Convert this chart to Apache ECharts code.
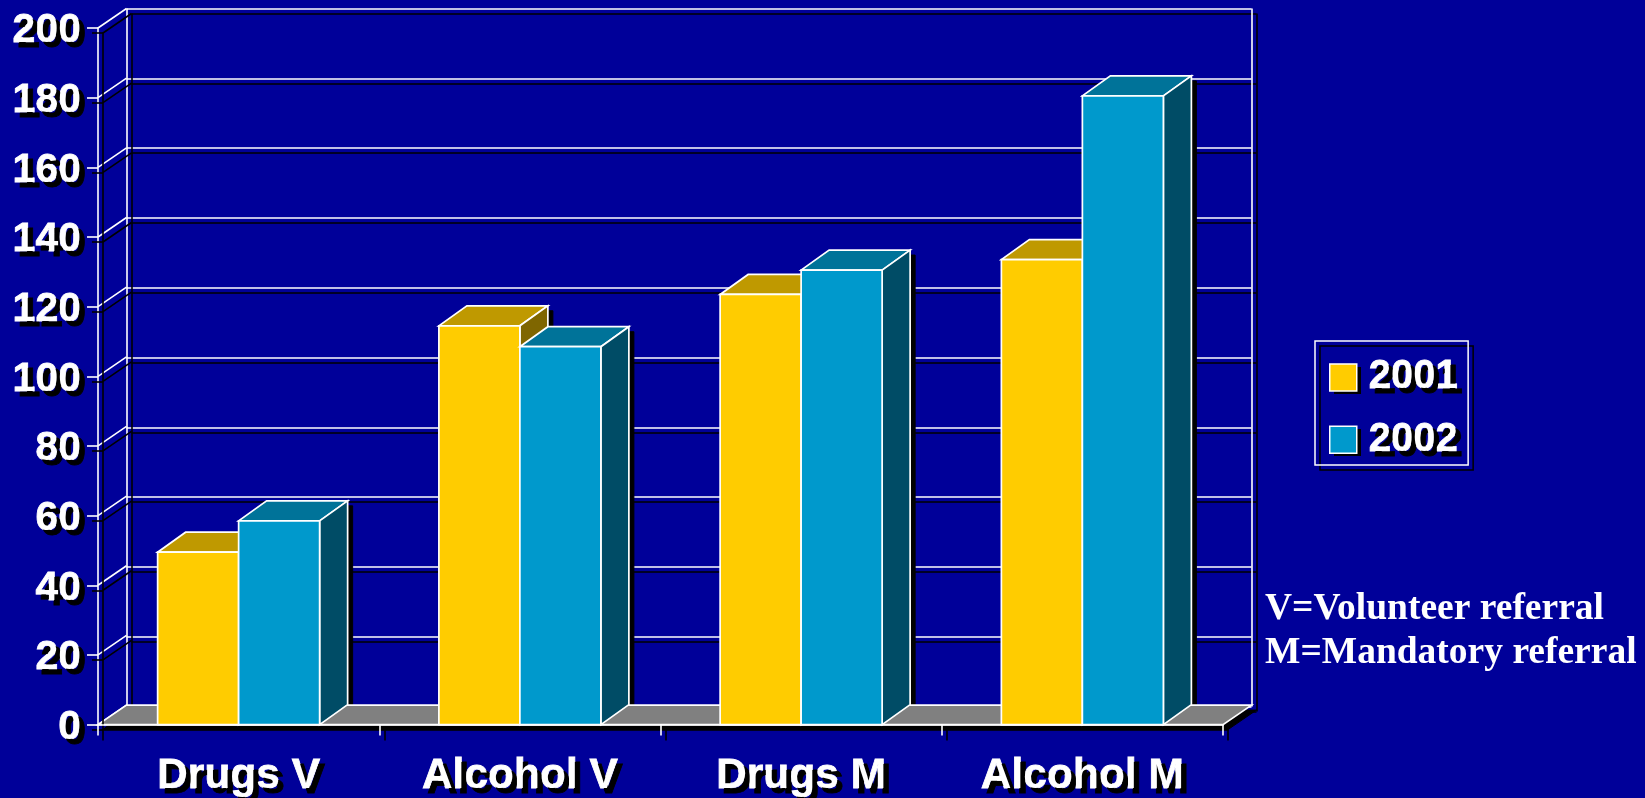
<!DOCTYPE html>
<html><head><meta charset="utf-8">
<style>html,body{margin:0;padding:0;background:#000099;overflow:hidden}#c{width:1645px;height:798px}</style>
<script src="https://cdn.jsdelivr.net/npm/echarts@6/dist/echarts.min.js"></script>
</head><body><div id="c"></div>
<script>
const categories = ['Drugs V', 'Alcohol V', 'Drugs M', 'Alcohol M'];
const values2001 = [49.5, 114.5, 123.5, 133.5];
const values2002 = [58.5, 108.5, 130.5, 180.5];
const yTicks = [0, 20, 40, 60, 80, 100, 120, 140, 160, 180, 200];
const noteLines = ['V=Volunteer referral', 'M=Mandatory referral'];

const BG = '#000099', WHITE = '#ffffff', BLACK = '#000000';
const FRONT = {left: 98, top: 28, width: 1125, height: 698};
const WALL_DX = 28.5, WALL_DY = -19.5;
const BAR_DX = 28, BAR_DY = -20, BAR_FRACTION = 0.288, SH = 5;
const shadow = {shadowColor: BLACK, shadowOffsetX: SH, shadowOffsetY: SH, shadowBlur: 0};
const lineStyle = Object.assign({color: WHITE, width: 1.6}, shadow);
const textShadow = {textShadowColor: BLACK, textShadowOffsetX: SH, textShadowOffsetY: SH, textShadowBlur: 0.5};
const labelFont = {color: WHITE, fontFamily: '"Liberation Sans", Arial, sans-serif', fontWeight: 'bold', textBorderColor: WHITE, textBorderWidth: 0.8};

function poly(points, fill) {
  return {type: 'polygon', shape: {points}, style: {fill, stroke: WHITE, lineWidth: 1.7, lineJoin: 'miter'}};
}
function silhouette(points) {
  return {type: 'polygon', shape: {points: points.map(p => [p[0] + SH, p[1] + SH])}, style: {fill: BLACK, stroke: BLACK, lineWidth: 1}};
}
function barBox(api, sign) {
  const p = api.coord([api.value(0), api.value(1)]);
  const base = api.coord([api.value(0), 0]);
  const w = api.size([1, 0])[0] * BAR_FRACTION;
  const x0 = sign < 0 ? p[0] - w : p[0];
  return {x0, x1: x0 + w, yT: p[1], yB: base[1]};
}
function barShadowSeries(name, values, sign) {
  return {
    name, type: 'custom', coordinateSystem: 'cartesian2d', xAxisIndex: 0, yAxisIndex: 0, z: 1, silent: true,
    data: values.map((v, i) => [i, v]),
    renderItem(params, api) {
      const {x0, x1, yT, yB} = barBox(api, sign);
      return silhouette([[x0, yB], [x0, yT], [x0 + BAR_DX, yT + BAR_DY], [x1 + BAR_DX, yT + BAR_DY], [x1 + BAR_DX, yB + BAR_DY], [x1, yB]]);
    }
  };
}
function barSeries(name, values, front, top, side, sign) {
  return {
    name, type: 'custom', coordinateSystem: 'cartesian2d', xAxisIndex: 0, yAxisIndex: 0, z: 3,
    itemStyle: {color: front}, silent: true,
    data: values.map((v, i) => [i, v]),
    renderItem(params, api) {
      const {x0, x1, yT, yB} = barBox(api, sign);
      return {type: 'group', children: [
        poly([[x0, yT], [x1, yT], [x1 + BAR_DX, yT + BAR_DY], [x0 + BAR_DX, yT + BAR_DY]], top),
        poly([[x1, yT], [x1 + BAR_DX, yT + BAR_DY], [x1 + BAR_DX, yB + BAR_DY], [x1, yB]], side),
        poly([[x0, yT], [x1, yT], [x1, yB], [x0, yB]], front)
      ]};
    }
  };
}
const chart = echarts.init(document.getElementById('c'), null, {renderer: 'canvas'});
chart.setOption({
  animation: false,
  backgroundColor: BG,
  grid: [
    Object.assign({containLabel: false}, FRONT),
    {left: FRONT.left + WALL_DX, top: FRONT.top + WALL_DY, width: FRONT.width, height: FRONT.height}
  ],
  xAxis: [
    {gridIndex: 0, type: 'category', data: categories, z: 5,
      axisLine: {show: true, onZero: false, lineStyle},
      axisTick: {show: true, length: 11, alignWithLabel: false, lineStyle},
      axisLabel: Object.assign({margin: 30, interval: 0, fontSize: 42.5}, labelFont, textShadow),
      splitLine: {show: false}},
    {gridIndex: 1, type: 'value', min: 0, max: 1, interval: 1, z: 0,
      axisLine: {show: false}, axisTick: {show: false}, axisLabel: {show: false},
      splitLine: {show: true, lineStyle}}
  ],
  yAxis: [
    {gridIndex: 0, type: 'value', min: 0, max: 200, interval: 20, z: 5,
      axisLine: {show: true, lineStyle},
      axisTick: {show: true, length: 11, lineStyle},
      axisLabel: Object.assign({margin: 17, fontSize: 41, verticalAlign: 'top', lineHeight: 6}, labelFont, textShadow, {formatter: v => yTicks.includes(v) ? String(v) : ''}),
      splitLine: {show: false}},
    {gridIndex: 1, type: 'value', min: 0, max: 200, interval: 20, z: 0,
      axisLine: {show: false}, axisTick: {show: false}, axisLabel: {show: false},
      splitLine: {show: true, lineStyle}}
  ],
  legend: {
    left: 1315, top: 341, orient: 'vertical', align: 'left',
    padding: [16, 10, 5, 14], itemWidth: 27, itemHeight: 27, itemGap: 21.5,
    borderColor: WHITE, borderWidth: 1.5, backgroundColor: 'transparent',
    shadowColor: BLACK, shadowOffsetX: SH, shadowOffsetY: SH, shadowBlur: 0,
    data: [{name: '2001', icon: 'rect'}, {name: '2002', icon: 'rect'}],
    itemStyle: {borderColor: WHITE, borderWidth: 1.5},
    textStyle: Object.assign({lineHeight: 27, padding: [4, 0, 0, 7], fontSize: 40}, labelFont, textShadow),
    selectedMode: false
  },
  series: [
    barShadowSeries('shadow 2001', values2001, -1),
    barShadowSeries('shadow 2002', values2002, 1),
    {name: 'diagonals', type: 'custom', coordinateSystem: 'cartesian2d', xAxisIndex: 0, yAxisIndex: 0, z: 1, silent: true,
      data: yTicks.map(v => [0, v]),
      renderItem(params, api) {
        const y = api.coord([0, api.value(1)])[1];
        const x = FRONT.left;
        return {type: 'line', shape: {x1: x, y1: y, x2: x + WALL_DX, y2: y + WALL_DY},
          style: Object.assign({stroke: WHITE, lineWidth: 1.6}, shadow)};
      }},
    {name: 'floor', type: 'custom', coordinateSystem: 'cartesian2d', xAxisIndex: 0, yAxisIndex: 0, z: 2, silent: true,
      data: [[0, 0]],
      renderItem(params, api) {
        const y = api.coord([0, 0])[1];
        const xl = FRONT.left, xr = FRONT.left + FRONT.width;
        const pts = [[xl, y], [xl + WALL_DX, y + WALL_DY], [xr + WALL_DX, y + WALL_DY], [xr, y]];
        return {type: 'group', children: [silhouette(pts), poly(pts, '#808080')]};
      }},
    barSeries('2001', values2001, '#FFCC00', '#BF9900', '#7F6600', -1),
    barSeries('2002', values2002, '#0099CC', '#007399', '#004C66', 1)
  ],
  graphic: noteLines.map((text, i) => ({
    type: 'text', left: 1265, top: 590 + i * 44, z: 10, silent: true,
    style: {text, fill: WHITE, font: 'bold 37.5px "Liberation Serif", "Times New Roman", serif'}
  })).concat([0, 1].map(i => ({
    type: 'rect', z: 1, silent: true, left: 1334, top: 367 + i * 62,
    shape: {width: 27, height: 27}, style: {fill: BLACK}
  })))
});
</script></body></html>
